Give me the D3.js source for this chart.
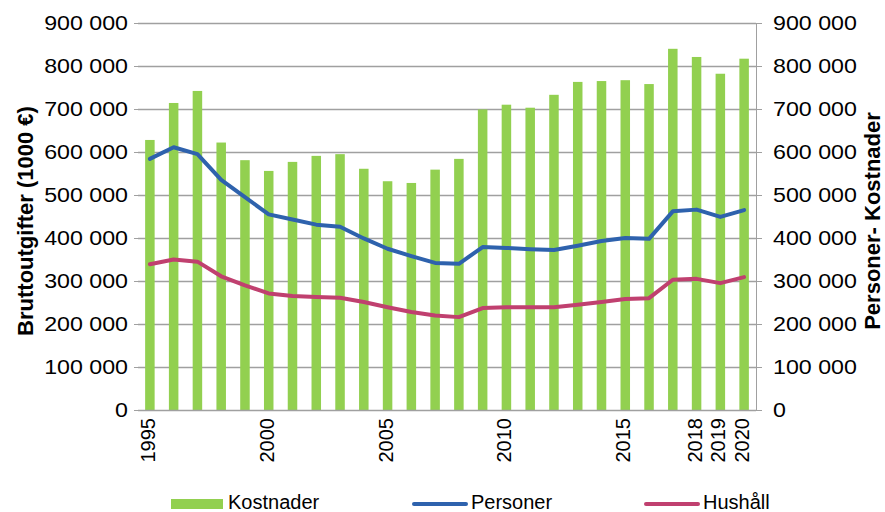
<!DOCTYPE html>
<html>
<head>
<meta charset="utf-8">
<script src="https://cdnjs.cloudflare.com/ajax/libs/d3/7.8.5/d3.min.js"></script>
<style>
  body { margin: 0; background: #fff; }
  text { font-family: "Liberation Sans", Arial, sans-serif; fill: #000; }
</style>
</head>
<body>
<div id="chart"></div>
<script>
// years on the x axis
const years = [1995, 1996, 1997, 1998, 1999, 2000, 2001, 2002, 2003, 2004, 2005, 2006, 2007,
    2008, 2009, 2010, 2011, 2012, 2013, 2014, 2015, 2016, 2017, 2018, 2019, 2020];
// which year labels are shown
const yearLabels = [1995, 2000, 2005, 2010, 2015, 2018, 2019, 2020];

// series values
const kostnader = [628000, 714000, 742000, 622000, 581000, 556000, 577000, 591000, 595000, 561000,
    532000, 528000, 559000, 584000, 699000, 710000, 703000, 733000, 763000, 765000, 767000, 758000,
    840000, 821000, 782000, 817000];
const personer = [584000, 611000, 595000, 535000, 495000, 455000, 443000, 431000, 426000, 399000,
    375000, 358000, 342000, 340000, 379000, 377000, 374000, 372000, 382000, 393000, 400000, 398000,
    462000, 466000, 449000, 465000];
const hushall = [339000, 350000, 345000, 311000, 290000, 271000, 265000, 263000, 261000, 251000,
    239000, 228000, 220000, 216000, 237000, 239000, 239000, 239000, 245000, 251000, 258000, 260000,
    303000, 305000, 295000, 309000];

const yTicks = [0, 100000, 200000, 300000, 400000, 500000, 600000, 700000, 800000, 900000];

const colors = { bar: "#92d050", personer: "#2e62ad", hushall: "#c0406f", grid: "#a0a0a0" };

const W = 885, H = 512;
const margin = { top: 23, right: 129, bottom: 102, left: 138 };
const width = W - margin.left - margin.right,
    height = H - margin.top - margin.bottom;
const fontSize = "20px";

// widen tick labels a little, the source font is broader than Arial
function stretch(sel, k) {
    sel.each(function () {
        const w = this.getComputedTextLength();
        d3.select(this).attr("textLength", w * k).attr("lengthAdjust", "spacingAndGlyphs");
    });
}

const svg = d3.select("#chart").append("svg")
    .attr("width", W).attr("height", H);

const g = svg.append("g")
    .attr("transform", "translate(" + margin.left + "," + margin.top + ")");

const x = d3.scaleBand().domain(years).range([0, width]).paddingInner(0.6).paddingOuter(0.3);
const xc = d => x(d) + x.bandwidth() / 2;
const y = d3.scaleLinear().domain([0, 900000]).range([height, 0]);
const y2 = d3.scaleLinear().domain([0, 900000]).range([height, 0]);

const fmt = v => d3.format(",")(v).replace(/,/g, " ");

// gridlines
g.append("g")
    .selectAll("line")
    .data(yTicks.slice(1))
    .enter().append("line")
    .attr("x1", 0).attr("x2", width)
    .attr("y1", d => Math.round(y(d)) + 0.5).attr("y2", d => Math.round(y(d)) + 0.5)
    .attr("stroke", colors.grid).attr("stroke-width", 1.5);

// bars
g.append("g")
    .selectAll("rect")
    .data(years)
    .enter().append("rect")
    .attr("x", d => x(d))
    .attr("width", x.bandwidth())
    .attr("y", (d, i) => y(kostnader[i]))
    .attr("height", (d, i) => height - y(kostnader[i]))
    .attr("fill", colors.bar);

// lines
const line = d3.line().x((d, i) => xc(years[i])).y(d => y2(d));
g.append("path").datum(personer).attr("d", line)
    .attr("fill", "none").attr("stroke", colors.personer).attr("stroke-width", 4)
    .attr("stroke-linejoin", "round").attr("stroke-linecap", "round");
g.append("path").datum(hushall).attr("d", line)
    .attr("fill", "none").attr("stroke", colors.hushall).attr("stroke-width", 4)
    .attr("stroke-linejoin", "round").attr("stroke-linecap", "round");

// left axis
const yAxisL = g.append("g")
    .call(d3.axisLeft(y).tickValues(yTicks).tickFormat(fmt).tickSize(4).tickPadding(6));
yAxisL.select(".domain").remove();
yAxisL.selectAll(".tick line").attr("stroke", colors.grid);
yAxisL.selectAll("text").style("font-size", fontSize).style("font-family", "Liberation Sans, Arial, sans-serif")
    .call(stretch, 1.16);

// right axis
const yAxisR = g.append("g")
    .attr("transform", "translate(" + width + ",0)")
    .call(d3.axisRight(y2).tickValues(yTicks).tickFormat(fmt).tickSize(6).tickPadding(11));
yAxisR.select(".domain").attr("stroke", colors.grid);
yAxisR.selectAll(".tick line").attr("stroke", colors.grid);
yAxisR.selectAll("text").style("font-size", fontSize).style("font-family", "Liberation Sans, Arial, sans-serif")
    .call(stretch, 1.16);

// bottom axis
const xAxis = g.append("g")
    .attr("transform", "translate(0," + height + ")")
    .call(d3.axisBottom(x).tickValues(yearLabels).tickSize(0).tickPadding(0));
xAxis.select(".domain").attr("stroke", colors.grid).attr("stroke-width", 1.5)
    .attr("d", "M0,0.5H" + width);
xAxis.selectAll("text")
    .style("font-size", fontSize).style("font-family", "Liberation Sans, Arial, sans-serif")
    .attr("text-anchor", "end")
    .attr("transform", "rotate(-90)")
    .attr("x", -8).attr("y", -2).attr("dy", "0.35em");

// axis titles
svg.append("text")
    .attr("transform", "translate(33,221) rotate(-90)")
    .attr("text-anchor", "middle")
    .style("font-size", "22px").style("font-weight", "bold")
    .text("Bruttoutgifter (1000 €)");
svg.append("text")
    .attr("transform", "translate(880,221) rotate(-90)")
    .attr("text-anchor", "middle")
    .style("font-size", "22px").style("font-weight", "bold")
    .text("Personer- Kostnader");

// legend
const legendY = 504, legendBase = 509;
const legend = svg.append("g");
legend.append("rect").attr("x", 171).attr("y", legendY - 5).attr("width", 52).attr("height", 10)
    .attr("fill", colors.bar);
legend.append("text").attr("x", 228).attr("y", legendBase)
    .style("font-size", fontSize).text("Kostnader");
legend.append("line").attr("x1", 414).attr("x2", 466).attr("y1", legendY).attr("y2", legendY)
    .attr("stroke", colors.personer).attr("stroke-width", 4).attr("stroke-linecap", "round");
legend.append("text").attr("x", 471).attr("y", legendBase)
    .style("font-size", fontSize).text("Personer");
legend.append("line").attr("x1", 646).attr("x2", 698).attr("y1", legendY).attr("y2", legendY)
    .attr("stroke", colors.hushall).attr("stroke-width", 4).attr("stroke-linecap", "round");
legend.append("text").attr("x", 703).attr("y", legendBase)
    .style("font-size", fontSize).text("Hushåll");
</script>
</body>
</html>
